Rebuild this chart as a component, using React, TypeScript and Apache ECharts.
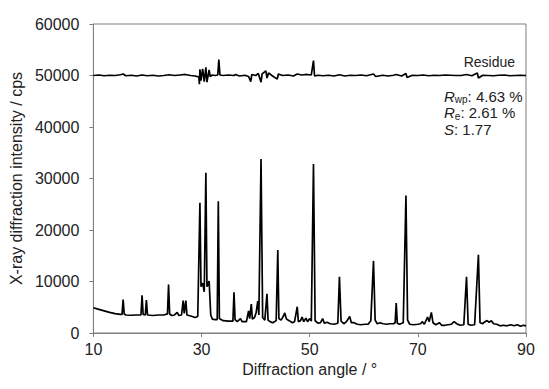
import React, { useEffect, useRef } from "react";
import * as echarts from "echarts";

// Observed pattern: [2θ (°), intensity (cps)]
const observed: [number, number][] = [
  [10.0, 4900], [11, 4600], [12, 4300], [13, 4000], [14, 3750], [15, 3600], [15.3, 3600],
  [15.5, 6500], [15.7, 3700], [16, 3500], [17, 3450], [18, 3500], [18.8, 3500], [19.0, 7300],
  [19.2, 3600], [19.6, 3500], [19.8, 6400], [20.0, 3500], [21, 3400], [22, 3500], [23, 3500],
  [23.7, 3700], [23.9, 9400], [24.1, 3700], [24.5, 3400], [25, 3500], [25.5, 4000], [25.8, 3400],
  [26.3, 3500], [26.6, 6300], [26.8, 3800], [27.1, 6300], [27.3, 3500], [28, 3300], [28.8, 3000],
  [29.3, 3200], [29.7, 25300], [29.9, 9000], [30.2, 9700], [30.5, 8000], [30.8, 31100],
  [31.0, 9000], [31.4, 10100], [31.7, 3500], [32, 2700], [32.5, 2600], [32.9, 2600],
  [33.1, 25600], [33.3, 2800], [34, 2400], [35, 2300], [35.8, 2300], [36.0, 7900], [36.2, 2600],
  [36.6, 2200], [37.2, 2800], [37.5, 2200], [38.3, 2200], [38.7, 4300], [38.9, 2800],
  [39.2, 5600], [39.4, 2700], [39.8, 3000], [40.1, 4000], [40.4, 6200], [40.6, 3500],
  [41.0, 33800], [41.3, 3000], [41.7, 2500], [42.1, 7600], [42.3, 2500], [42.8, 2100],
  [43.2, 2000], [43.8, 2400], [44.1, 16100], [44.3, 2800], [44.7, 2500], [45.0, 3000],
  [45.4, 3900], [45.7, 2700], [46.2, 2400], [46.8, 2000], [47.2, 2200], [47.7, 5100],
  [47.9, 2200], [48.3, 2400], [48.6, 3100], [48.9, 2200], [49.3, 2900], [49.6, 2200],
  [50.0, 2800], [50.3, 2300], [50.7, 32800], [51.0, 2400], [51.5, 1900], [52.0, 2000],
  [52.4, 2800], [52.7, 1900], [53.2, 2100], [53.8, 1800], [54.5, 1700], [55.2, 1900],
  [55.5, 10900], [55.8, 2300], [56.3, 1800], [56.8, 2200], [57.4, 3200], [57.7, 2000],
  [58.2, 2000], [58.8, 1700], [59.5, 1600], [60.2, 1700], [60.8, 1700], [61.3, 2400],
  [61.8, 14000], [62.1, 2500], [62.5, 1800], [63.0, 2000], [63.6, 1800], [64.2, 1700],
  [64.8, 1800], [65.5, 1800], [65.8, 2000], [66.0, 5800], [66.2, 1900], [66.6, 1700],
  [67.3, 2000], [67.8, 26700], [68.1, 2500], [68.5, 1700], [69.2, 1600], [70.0, 1700],
  [70.5, 1800], [70.8, 2200], [71.2, 1700], [71.8, 3100], [72.1, 2200], [72.5, 4000],
  [72.8, 2000], [73.3, 1600], [74.0, 2000], [74.4, 1500], [75.0, 1500], [75.6, 1600],
  [76.2, 1700], [76.7, 2200], [77.2, 1800], [77.8, 1500], [78.5, 1600], [79.0, 10900],
  [79.3, 1700], [79.8, 1500], [80.5, 1600], [81.2, 15200], [81.5, 2000], [82.0, 1800],
  [82.4, 2200], [82.8, 2400], [83.2, 2100], [83.6, 2400], [84.0, 1800], [84.6, 1700],
  [85.2, 1400], [85.8, 1500], [86.5, 1400], [87.2, 1600], [87.8, 1400], [88.4, 1600],
  [89.0, 1300], [89.5, 1500], [90.0, 1400],
];

// Residue (offset to 50000 cps): [2θ (°), value]
const residue: [number, number][] = [
  [10, 50000], [11, 50100], [12, 49950], [13, 50050], [14, 50000], [15, 50150], [15.5, 50300],
  [16, 49950], [17, 50050], [18, 49900], [19, 50100], [20, 49950], [21, 50050], [22, 49900],
  [23, 50000], [24, 50150], [25, 50000], [26, 50100], [27, 50200], [28, 50000], [28.8, 49900],
  [29.5, 49700], [29.6, 48300], [29.7, 51200], [29.9, 49000], [30.2, 51300], [30.5, 48800],
  [30.8, 51600], [31.0, 48700], [31.4, 51100], [31.6, 49800], [32.0, 50100], [32.5, 50000],
  [33.0, 50100], [33.2, 53100], [33.4, 50100], [34, 50000], [35, 50100], [36, 50000],
  [36.3, 50200], [37, 49900], [38, 50050], [38.7, 49800], [39.1, 48800], [39.3, 50200],
  [40, 50000], [40.5, 50400], [41.0, 48700], [41.2, 50300], [41.9, 50900], [42.1, 49500],
  [42.4, 50500], [43, 50000], [44.0, 49300], [44.2, 50300], [45, 50000], [46, 50100],
  [47, 49900], [47.7, 50300], [48.5, 50100], [49.5, 50200], [50.3, 50100], [50.7, 52900],
  [50.9, 49900], [51.5, 50050], [52.5, 49950], [53.5, 50050], [54.5, 49900], [55.5, 50150],
  [56.5, 49900], [57.5, 50050], [58.5, 50000], [59.5, 50100], [60.5, 49950], [61.8, 50300],
  [62.2, 49800], [63.5, 50050], [64.5, 49900], [65.5, 50050], [66.0, 50200], [67.0, 49900],
  [67.8, 50400], [68.0, 49600], [69, 50050], [70, 50000], [71, 50100], [72, 49950],
  [73, 50050], [74, 50000], [75, 50100], [76, 50050], [77, 50000], [78, 50000], [79, 50200],
  [80, 49950], [81.0, 50500], [81.2, 49500], [82, 50050], [83, 50000], [84, 49950],
  [85, 50050], [86, 50100], [87, 49950], [88, 50000], [89, 50050], [90, 50000],
];

const xRange = [10, 90];
const xInterval = 20;
const yRange = [0, 60000];
const yInterval = 10000;

const FONT = "'Liberation Sans', Arial, sans-serif";

export default function App() {
  const ref = useRef<HTMLDivElement>(null);
  useEffect(() => {
    if (!ref.current) return;
    const chart = echarts.init(ref.current, undefined, { renderer: "svg" });
    chart.setOption({
      animation: false,
      backgroundColor: "#ffffff",
      grid: {
        left: 92, right: 23, top: 24, bottom: 56,
        show: true, borderColor: "#7f7f7f", borderWidth: 1,
      },
      xAxis: {
        type: "value",
        min: xRange[0], max: xRange[1], interval: xInterval,
        name: "Diffraction angle / °",
        nameLocation: "middle", nameGap: 25,
        nameTextStyle: { fontFamily: FONT, fontSize: 16, color: "#222" },
        axisLine: { lineStyle: { color: "#7f7f7f", width: 1 } },
        axisTick: { show: true, length: 4, lineStyle: { color: "#7f7f7f" } },
        axisLabel: { fontFamily: FONT, fontSize: 16, color: "#222", margin: 8 },
        splitLine: { show: false },
      },
      yAxis: {
        type: "value",
        min: yRange[0], max: yRange[1], interval: yInterval,
        name: "X-ray diffraction intensity / cps",
        nameLocation: "middle", nameGap: 68,
        nameTextStyle: { fontFamily: FONT, fontSize: 16, color: "#222" },
        axisLine: { show: true, lineStyle: { color: "#7f7f7f", width: 1 } },
        axisTick: { show: true, length: 4, lineStyle: { color: "#7f7f7f" } },
        axisLabel: {
          fontFamily: FONT, fontSize: 16, color: "#222", margin: 14,
          formatter: (v: number) => String(v),
        },
        splitLine: { show: false },
      },
      series: [
        {
          type: "line", data: observed, showSymbol: false, symbol: "none",
          lineStyle: { color: "#000", width: 1.7 }, z: 3,
        },
        {
          type: "line", data: residue, showSymbol: false, symbol: "none",
          lineStyle: { color: "#000", width: 1.7 }, z: 3,
        },
      ],
      graphic: [
        {
          type: "text", right: 34, top: 55,
          style: { text: "Residue", fontFamily: FONT, fontSize: 14, fill: "#222" },
        },
        {
          type: "text", left: 444, top: 88,
          style: {
            text: "{i|R}{s|wp}: 4.63 %\n{i|R}{s|e}: 2.61 %\n{i|S}: 1.77",
            fontFamily: FONT, fontSize: 15, fill: "#222", lineHeight: 16.5,
            rich: {
              i: { fontStyle: "italic", fontFamily: FONT, fontSize: 15, fill: "#222" },
              s: { fontFamily: FONT, fontSize: 10, fill: "#222", padding: [7, 0, 0, 0] },
            },
          },
        },
      ],
    });
    return () => chart.dispose();
  }, []);
  return (
    <div
      ref={ref}
      style={{ position: "fixed", left: 0, top: 0, width: 549, height: 389 }}
    />
  );
}
